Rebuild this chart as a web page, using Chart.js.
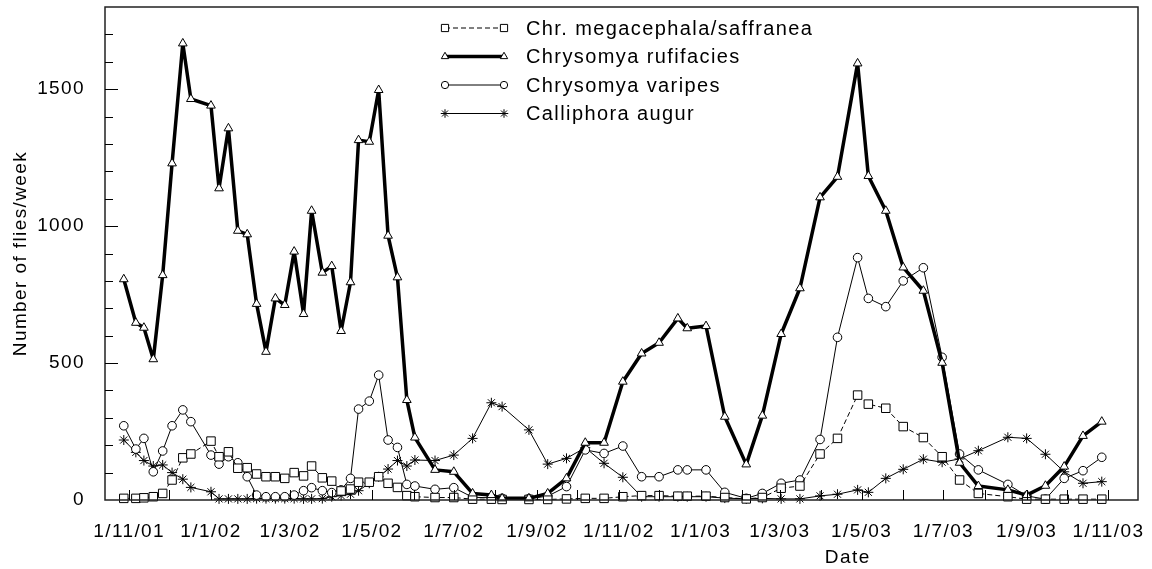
<!DOCTYPE html>
<html>
<head>
<meta charset="utf-8">
<title>Flies per week</title>
<script src="https://cdn.jsdelivr.net/npm/chart.js@4.4.1/dist/chart.umd.min.js"></script>
<style>
  html, body { margin: 0; padding: 0; background: #fff; }
  #wrap { width: 1152px; height: 569px; }
</style>
</head>
<body>
<div id="wrap"><canvas id="fliesChart" width="1152" height="569"></canvas></div>
<script>
// sampling dates
var sampleDates = [
  '2001-10-28', '2001-11-06', '2001-11-12', '2001-11-19', '2001-11-26', '2001-12-03', '2001-12-11', '2001-12-17',
  '2002-01-01', '2002-01-07', '2002-01-14', '2002-01-21', '2002-01-28', '2002-02-04', '2002-02-11', '2002-02-18',
  '2002-02-25', '2002-03-04', '2002-03-11', '2002-03-17', '2002-03-25', '2002-04-01', '2002-04-08', '2002-04-15',
  '2002-04-21', '2002-04-29', '2002-05-06', '2002-05-13', '2002-05-20', '2002-05-27', '2002-06-02', '2002-06-17',
  '2002-07-01', '2002-07-15', '2002-07-29', '2002-08-06', '2002-08-26', '2002-09-09', '2002-09-23', '2002-10-07',
  '2002-10-21', '2002-11-04', '2002-11-18', '2002-12-01', '2002-12-15', '2002-12-22', '2003-01-05', '2003-01-19',
  '2003-02-04', '2003-02-16', '2003-03-02', '2003-03-16', '2003-03-31', '2003-04-13', '2003-04-28', '2003-05-06',
  '2003-05-19', '2003-06-01', '2003-06-16', '2003-06-30', '2003-07-13', '2003-07-27', '2003-08-18', '2003-09-01',
  '2003-09-15', '2003-09-29', '2003-10-13', '2003-10-27'
];

var megacephala = [
  6, 6, 8, 12, 24, 73, 154, 168, 215, 158, 176, 116, 118, 95, 85, 85,
  79, 100, 88, 124, 81, 69, 33, 40, 65, 65, 85, 61, 46, 16, 12, 9,
  9, 3, 3, 2, 2, 2, 4, 6, 6, 12, 16, 16, 14, 14, 14, 9,
  4, 9, 43, 51, 168, 225, 383, 350, 335, 268, 228, 158, 73, 24, 12, 3,
  3, 3, 3, 3
];

var rufifacies = [
  806, 647, 629, 514, 821, 1229, 1667, 1464, 1440, 1138, 1357, 983, 970, 716, 541, 736,
  712, 907, 679, 1056, 830, 854, 617, 795, 1314, 1308, 1497, 965, 813, 365, 228, 110,
  103, 24, 18, 6, 6, 24, 79, 209, 209, 432, 535, 574, 663, 627, 635, 304,
  130, 308, 606, 773, 1105, 1180, 1594, 1183, 1056, 849, 764, 501, 136, 51, 37, 18,
  52, 122, 234, 286
];

var varipes = [
  271, 186, 225, 103, 179, 271, 329, 286, 164, 131, 158, 136, 85, 18, 12, 12,
  12, 18, 34, 45, 34, 27, 37, 79, 332, 361, 456, 219, 192, 57, 51, 39,
  45, 10, 8, 6, 5, 14, 49, 183, 170, 197, 85, 85, 110, 110, 110, 28,
  6, 24, 61, 73, 221, 594, 885, 736, 706, 800, 848, 521, 168, 110, 57, 15,
  3, 79, 107, 156
];

var augur = [
  219, 174, 144, 124, 128, 100, 76, 46, 30, 4, 4, 4, 4, 5, 5, 5,
  5, 5, 4, 4, 5, 12, 16, 21, 34, 61, 85, 113, 144, 124, 146, 144,
  164, 225, 355, 341, 256, 131, 152, 191, 134, 83, 12, 12, 12, 12, 12, 7,
  4, 6, 4, 4, 15, 21, 37, 28, 79, 112, 149, 138, 150, 180, 229, 225,
  167, 103, 61, 67
];

var seriesNames = ['Chr. megacephala/saffranea', 'Chrysomya rufifacies', 'Chrysomya varipes', 'Calliphora augur'];
var xTickLabels = ['1/11/01', '1/1/02', '1/3/02', '1/5/02', '1/7/02', '1/9/02', '1/11/02',
                   '1/1/03', '1/3/03', '1/5/03', '1/7/03', '1/9/03', '1/11/03'];
var yTicks = [0, 500, 1000, 1500];
var yMinorStep = 100;

var FONT = '"Liberation Sans", Arial, Helvetica, sans-serif';

// days counted from 1/11/01
function toDay(y, m, d) { return (Date.UTC(y, m - 1, d) - Date.UTC(2001, 10, 1)) / 86400000; }
function isoDay(s) { var p = s.split('-'); return toDay(+p[0], +p[1], +p[2]); }
function labelDay(s) { var p = s.split('/'); return toDay(2000 + +p[2], +p[1], +p[0]); }

var days = sampleDates.map(isoDay);
var majorDays = xTickLabels.map(labelDay);
var labelFor = {};
var monthDays = [];
xTickLabels.forEach(function(l, i) {
  var p = l.split('/');
  labelFor[majorDays[i]] = l;
  monthDays.push(majorDays[i]);
  if (i < xTickLabels.length - 1) monthDays.push(toDay(2000 + +p[2], +p[1] + 1, 1));
});

function pts(vals) {
  return vals.map(function(v, i) { return { x: days[i], y: v }; });
}

function series(i, vals, extra) {
  var ds = {
    label: seriesNames[i],
    data: pts(vals),
    borderColor: '#000',
    borderWidth: 1,
    borderJoinStyle: 'round',
    pointBackgroundColor: '#fff',
    pointBorderColor: '#000',
    pointBorderWidth: 1,
    tension: 0,
    clip: false,
    order: 1
  };
  for (var k in extra) ds[k] = extra[k];
  return ds;
}

// inner tick marks, the box and the x title
var frameTicks = {
  id: 'frameTicks',
  beforeDraw: function(chart) {
    chart.ctx.letterSpacing = '1.4px';
  },
  afterDatasetsDraw: function(chart) {
    var a = chart.chartArea, ctx = chart.ctx;
    var xs = chart.scales.x, ys = chart.scales.y;
    ctx.save();
    ctx.strokeStyle = '#222';
    ctx.lineWidth = 1.5;
    ctx.strokeRect(a.left, a.top, a.right - a.left, a.bottom - a.top);

    ctx.lineWidth = 1;
    ctx.strokeStyle = '#000';
    ctx.beginPath();
    monthDays.forEach(function(d) {
      var px = Math.round(xs.getPixelForValue(d)) + 0.5;
      ctx.moveTo(px, a.bottom);
      ctx.lineTo(px, a.bottom - 10);
    });
    for (var v = yMinorStep; v < ys.max; v += yMinorStep) {
      var py = Math.round(ys.getPixelForValue(v)) + 0.5;
      ctx.moveTo(a.left, py);
      ctx.lineTo(a.left + (yTicks.indexOf(v) >= 0 ? 13 : 8), py);
    }
    ctx.stroke();

    ctx.fillStyle = '#000';
    ctx.font = '19px ' + FONT;
    ctx.textAlign = 'center';
    ctx.textBaseline = 'middle';
    ctx.fillText('Date', a.left + 0.719 * (a.right - a.left), 558);
    ctx.restore();
  }
};

// legend with a marker at each end of the line sample
var legendBox = {
  id: 'legendBox',
  afterDraw: function(chart) {
    var ctx = chart.ctx;
    chart.data.datasets.forEach(function(ds, i) {
      var y = 28 + i * 28.5, x0 = 445, x1 = 504;
      ctx.save();
      ctx.strokeStyle = '#000';
      ctx.lineWidth = ds.borderWidth;
      ctx.setLineDash(ds.borderDash || []);
      ctx.beginPath();
      ctx.moveTo(x0, y);
      ctx.lineTo(x1, y);
      ctx.stroke();
      ctx.setLineDash([]);
      ctx.lineWidth = 1;
      ctx.fillStyle = '#fff';
      var opt = { pointStyle: ds.pointStyle, radius: ds.pointRadius * 0.85, rotation: 0, borderWidth: 1 };
      Chart.helpers.drawPoint(ctx, opt, x0, y);
      Chart.helpers.drawPoint(ctx, opt, x1, y);
      ctx.fillStyle = '#000';
      ctx.font = '20px ' + FONT;
      ctx.textAlign = 'left';
      ctx.textBaseline = 'middle';
      ctx.fillText(ds.label, 526, y + 1);
      ctx.restore();
    });
  }
};

var config = {
  type: 'line',
  data: {
    datasets: [
      series(0, megacephala, { borderDash: [5, 3], pointStyle: 'rect', pointRadius: 6 }),
      series(1, rufifacies, { borderWidth: 3.5, pointStyle: 'triangle', pointRadius: 5, order: 0 }),
      series(2, varipes, { pointStyle: 'circle', pointRadius: 4.3 }),
      series(3, augur, { pointStyle: 'star', pointRadius: 5 })
    ]
  },
  options: {
    responsive: false,
    animation: false,
    layout: { padding: { top: 7, right: 14, left: 0, bottom: 0 } },
    plugins: {
      legend: { display: false },
      tooltip: { enabled: false }
    },
    scales: {
      x: {
        type: 'linear',
        min: -18,
        max: 752,
        grid: { display: false },
        border: { display: false },
        afterBuildTicks: function(scale) {
          scale.ticks = majorDays.map(function(d) { return { value: d }; });
        },
        afterFit: function(scale) {
          scale.height = 69;
          scale.paddingLeft = 0;
          scale.paddingRight = 0;
        },
        ticks: {
          autoSkip: false,
          maxRotation: 0,
          minRotation: 0,
          padding: 12,
          color: '#000',
          font: { family: FONT, size: 19 },
          callback: function(v) { return labelFor[v] || ''; }
        }
      },
      y: {
        min: 0,
        max: 1800,
        grid: { display: false },
        border: { display: false },
        afterBuildTicks: function(scale) {
          scale.ticks = yTicks.map(function(v) { return { value: v }; });
        },
        afterFit: function(scale) {
          scale.width = 105;
          scale.paddingTop = 0;
          scale.paddingBottom = 0;
        },
        ticks: {
          autoSkip: false,
          padding: 12,
          color: '#000',
          font: { family: FONT, size: 19 },
          callback: function(v) { return String(v); }
        },
        title: {
          display: true,
          text: 'Number of flies/week',
          color: '#000',
          font: { family: FONT, size: 19 },
          padding: { top: 9, bottom: 0 }
        }
      }
    }
  },
  plugins: [frameTicks, legendBox]
};

new Chart(document.getElementById('fliesChart').getContext('2d'), config);
</script>
</body>
</html>
